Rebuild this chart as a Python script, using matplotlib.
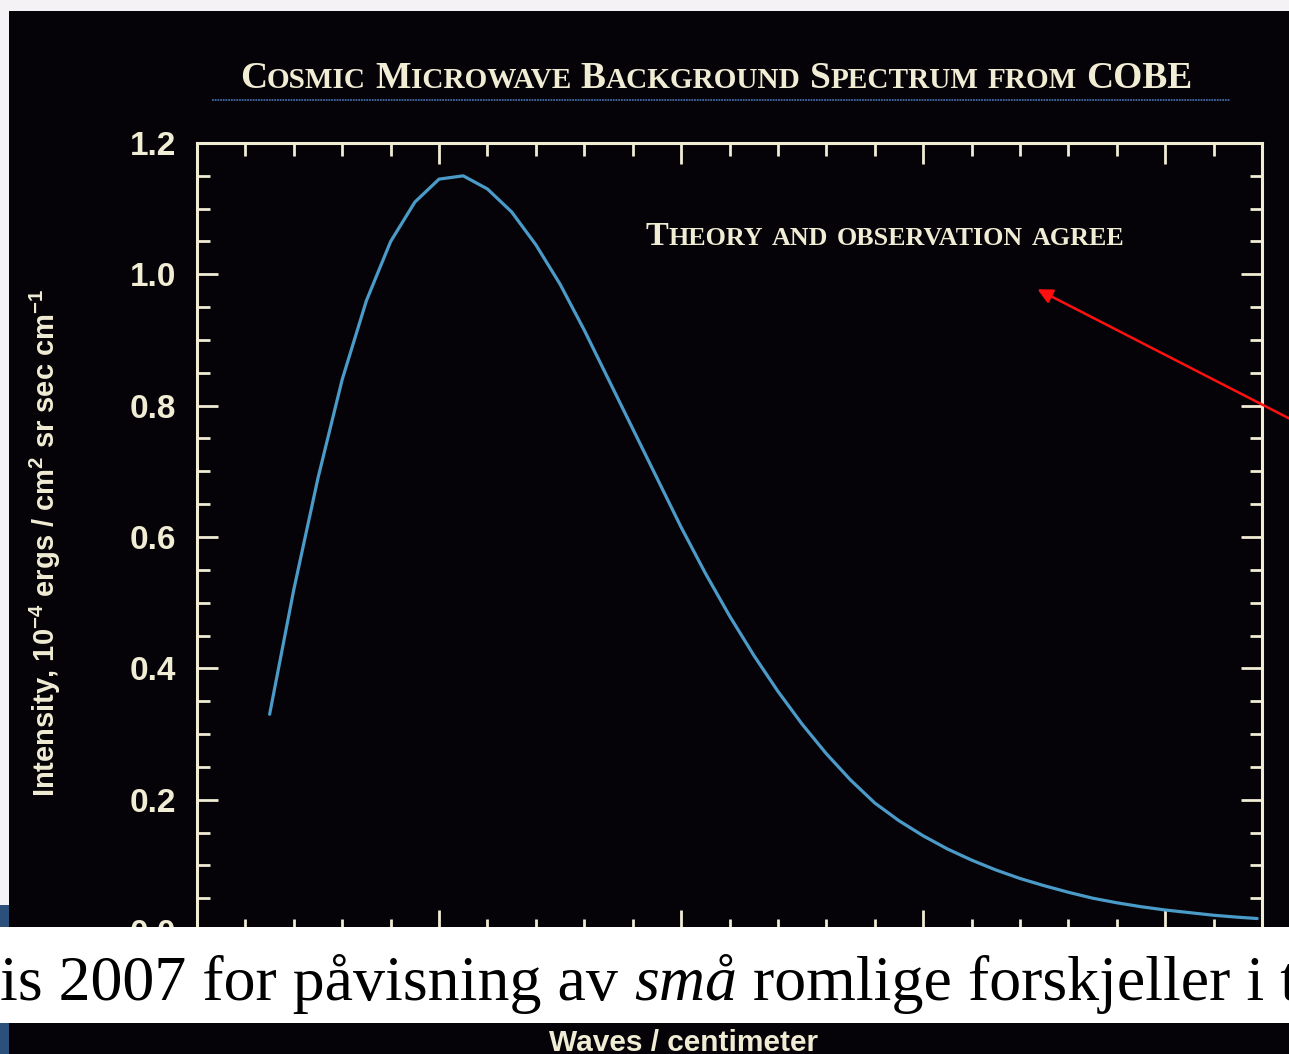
import matplotlib
matplotlib.use('Agg')
import matplotlib.pyplot as plt
from matplotlib.patches import Rectangle, FancyArrowPatch
from matplotlib.lines import Line2D
from matplotlib.ticker import MultipleLocator

# data
waves = [1.5, 2.0, 2.5, 3.0, 3.5, 4.0, 4.5, 5.0, 5.5, 6.0, 6.5, 7.0, 7.5, 8.0, 8.5,
         9.0, 9.5, 10.0, 10.5, 11.0, 11.5, 12.0, 12.5, 13.0, 13.5, 14.0, 14.5, 15.0,
         15.5, 16.0, 16.5, 17.0, 17.5, 18.0, 18.5, 19.0, 19.5, 20.0, 20.5, 21.0, 21.5, 21.9]
intensity = [0.33, 0.52, 0.69, 0.84, 0.96, 1.05, 1.11, 1.145, 1.15, 1.13, 1.095, 1.045,
             0.985, 0.915, 0.84, 0.765, 0.69, 0.615, 0.545, 0.48, 0.42, 0.365, 0.315,
             0.27, 0.23, 0.195, 0.168, 0.145, 0.125, 0.108, 0.093, 0.08, 0.069, 0.059,
             0.05, 0.043, 0.037, 0.032, 0.028, 0.024, 0.021, 0.019]
y_ticks = [0.0, 0.2, 0.4, 0.6, 0.8, 1.0, 1.2]

W, H = 1289, 1054
cream = '#f1ecd4'
sans = ['Liberation Sans', 'DejaVu Sans']
serif = ['Liberation Serif', 'DejaVu Serif']

plt.rcParams['mathtext.fontset'] = 'custom'
plt.rcParams['mathtext.rm'] = 'Liberation Sans:bold'
plt.rcParams['mathtext.it'] = 'Liberation Sans:bold'
plt.rcParams['mathtext.bf'] = 'Liberation Sans:bold'

fig = plt.figure(figsize=(12.89, 10.54), dpi=100)
fig.patch.set_facecolor('#f4f2f4')


def fx(px):
    return px / W


def fy(py):
    return 1 - py / H


# photo background
fig.add_artist(Rectangle((fx(9), 0), 1, fy(11), transform=fig.transFigure,
                         facecolor='#050308', edgecolor='none', zorder=-5))
fig.add_artist(Rectangle((0, 0), fx(9), fy(905), transform=fig.transFigure,
                         facecolor='#2c4f7c', edgecolor='none', zorder=-5))

ax = fig.add_axes([fx(197), fy(931), fx(1262 - 197), (931 - 143) / H])
ax.set_facecolor('#050308')
ax.plot(waves, intensity, color='#4b9bc9', lw=2.3, solid_capstyle='round',
        solid_joinstyle='round')

ax.set_xlim(0, 22)
ax.set_ylim(0, 1.2)
ax.xaxis.set_major_locator(MultipleLocator(5))
ax.xaxis.set_minor_locator(MultipleLocator(1))
ax.set_yticks(y_ticks)
ax.set_yticklabels(['%.1f' % v for v in y_ticks])
ax.yaxis.set_minor_locator(MultipleLocator(0.05))
for s in ax.spines.values():
    s.set_color(cream)
    s.set_linewidth(2.2)
ax.tick_params(which='both', direction='in', colors=cream, top=True, right=True,
               labelbottom=False, width=2.0)
ax.tick_params(which='major', length=15)
ax.tick_params(which='minor', length=9)
ax.tick_params(axis='y', which='major', pad=15, labelsize=24)
for t in ax.get_yticklabels():
    t.set_family(sans)
    t.set_weight('bold')
    t.set_color(cream)

renderer = fig.canvas.get_renderer()


def space_width(sz, **kw):
    a = fig.text(0, 0, 'M M', fontsize=sz, **kw)
    b = fig.text(0, 0, 'MM', fontsize=sz, **kw)
    w = a.get_window_extent(renderer).width - b.get_window_extent(renderer).width
    a.remove()
    b.remove()
    return w


def small_caps(text, x0, base, size, ratio, width, **kw):
    # draw text in small caps starting at x0 (pixels), scaled to fit width
    def draw(sz):
        arts = []
        space = space_width(sz, **kw)
        x = x0
        for i, word in enumerate(text.split(' ')):
            if i:
                x += space
            runs = []
            for ch in word:
                big = ch.isupper()
                if runs and runs[-1][1] == big:
                    runs[-1][0] += ch
                else:
                    runs.append([ch, big])
            for s, big in runs:
                t = fig.text(fx(x), fy(base), s.upper(), fontsize=sz if big else sz * ratio,
                             va='baseline', ha='left', **kw)
                x += t.get_window_extent(renderer).width
                arts.append(t)
        return arts, x - x0
    arts, w = draw(size)
    for a in arts:
        a.remove()
    draw(size * width / w)


small_caps('Cosmic Microwave Background Spectrum from COBE', 240, 88, 28, 0.78, 955,
           family=serif, weight='bold', color=cream)
fig.add_artist(Line2D([fx(212), fx(1230)], [fy(100), fy(100)], color='#4269a6',
                      lw=1.3, linestyle=(0, (1, 0.5))))
small_caps('Theory and observation agree', 646, 245, 24, 0.76, 479,
           family=serif, weight='bold', color=cream)

fig.text(fx(45), fy(543), 'Intensity, 10$^{-4}$ ergs / cm$^{2}$ sr sec cm$^{-1}$',
         rotation=90, ha='center', va='center', fontsize=21, weight='bold',
         family=sans, color=cream)
fig.text(fx(684), fy(1051), 'Waves / centimeter', ha='center', va='baseline',
         fontsize=21.5, weight='bold', family=sans, color=cream)

# red arrow coming in from the right
arrow = FancyArrowPatch((fx(1300), fy(424)), (fx(1035), fy(288)), transform=fig.transFigure,
                        arrowstyle='-|>', mutation_scale=22, color='#ff1010', lw=1.8, zorder=6)
fig.add_artist(arrow)

# white caption band across the chart
fig.add_artist(Rectangle((0, fy(1023)), 1, (1023 - 927) / H, transform=fig.transFigure,
                         facecolor='white', edgecolor='none', zorder=10))
cap = dict(fontsize=46, family=serif, color='black', va='baseline', zorder=11)
x = 0
gap = space_width(46, family=serif)
for piece, style in [('is 2007 for påvisning av', 'normal'), ('små', 'italic'),
                     ('romlige forskjeller i t', 'normal')]:
    t = fig.text(fx(x), fy(1000), piece, style=style, **cap)
    x += t.get_window_extent(renderer).width + gap

fig.savefig('out.png', dpi=100, facecolor=fig.get_facecolor())
